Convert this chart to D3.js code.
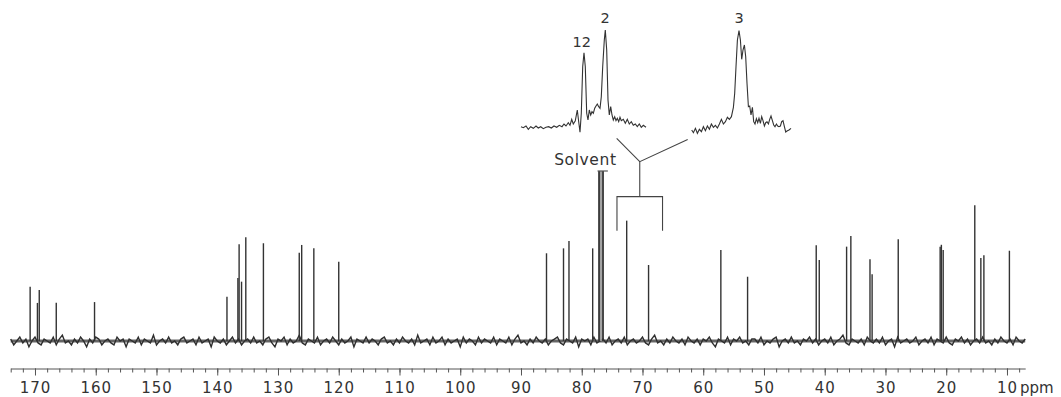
<!DOCTYPE html>
<html>
<head>
<meta charset="utf-8">
<script src="https://cdn.jsdelivr.net/npm/d3@7"></script>
<style>
  body { margin: 0; background: #fff; }
  svg { display: block; }
  text { font-family: "DejaVu Sans", sans-serif; fill: #333; }
</style>
</head>
<body>
<div id="chart"></div>
<script>
// 13C signals: shift in ppm and relative height (solvent top = 100)
const peakShifts = [170.8, 169.6, 169.3, 166.5, 160.2, 138.4, 136.6, 136.4, 136.0, 135.3,
  132.4, 126.5, 126.1, 124.1, 120.0, 85.8, 83.0, 82.1, 78.2, 72.6, 69.0, 57.1, 52.7,
  41.4, 40.9, 36.4, 35.7, 32.55, 32.2, 27.9, 21.0, 20.8, 20.5, 15.3, 14.3, 13.8, 9.6];
const peakHeights = [31.9, 22.4, 30.0, 22.5, 22.9, 26.1, 37.1, 56.9, 34.9, 61.0,
  57.5, 51.9, 56.5, 54.5, 46.6, 51.6, 54.5, 58.8, 54.5, 70.8, 44.7, 53.5, 37.8,
  56.3, 47.6, 55.5, 61.8, 48.1, 39.2, 59.8, 55.5, 56.6, 53.5, 79.8, 48.8, 50.4, 53.1];

// CDCl3 triplet, drawn clipped with a cap
const solventShifts = [77.15, 76.83, 76.5];
const solventHeight = 100;
const solventCap = [77.4, 75.7];

// baseline noise, one value every 0.5 ppm from 174 ppm down
const noiseStart = 174;
const noiseStep = 0.5;
const baselineNoise = [
  1,-2,0,2,-1,1,-3,0,2,-1,-2,1,0,-1,2,-2,1,3,-1,0,
  -2,1,-1,2,0,-3,1,-1,2,1,-2,0,1,-1,-2,2,0,1,-3,1,
  0,-1,2,-2,1,0,-1,3,-2,0,1,-1,2,-1,0,-2,1,2,-1,0,
  1,-2,2,-1,0,1,-3,2,0,-1,1,-2,0,2,-1,1,-2,0,1,-1,
  2,-1,0,-2,1,2,-1,-3,1,0,2,-2,1,-1,0,3,-1,-2,1,0,
  -1,2,-2,0,1,-1,2,0,-2,1,-1,0,2,-3,1,0,-1,2,-1,1,
  0,-2,1,2,-1,0,-2,1,-1,2,0,-1,1,-2,3,-1,0,1,-2,2,
  -1,0,2,-2,1,-1,0,1,-3,2,-1,1,0,-2,2,-1,1,0,-1,2,
  -2,1,0,-1,2,-2,1,3,-1,0,-2,1,-1,2,0,-1,1,-2,0,1,
  2,-1,-2,1,0,-1,2,-3,1,0,1,-2,2,-1,0,1,-1,2,-2,0,
  1,-1,2,-2,0,1,-1,0,2,-1,-2,1,3,-1,0,-2,1,-1,2,0,
  -1,1,-2,2,0,-1,1,-2,1,0,2,-1,-3,1,0,-1,2,-2,1,0,
  2,-1,0,-2,1,1,-1,2,-2,0,-1,1,2,-3,0,1,-1,2,-1,0,
  -2,1,0,2,-1,1,-2,0,1,-1,2,-2,0,1,3,-1,-2,1,0,-1,
  1,-2,2,0,-1,1,-1,2,-2,0,1,-3,2,-1,0,1,-1,0,2,-2,
  0,1,-1,2,-2,1,0,-1,2,-1,-2,1,0,2,-1,1,-2,0,1,-1,
  2,-1,0,-2,1,-1,2,0,-1,1,-2,2,0,-1,1];

// axis
const majorTicks = [170, 160, 150, 140, 130, 120, 110, 100, 90, 80, 70, 60, 50, 40, 30, 20, 10];
const minorTicks = d3.range(174, 7, -2);

// expansions (relative position, relative height)
const insetAPos = [0, 2.3, 5, 7.3, 9.7, 12.3, 15, 17.3, 19.7, 22.3, 25, 27.7, 30.3, 33, 35.7, 38.3, 41, 43, 45, 47.3,
  49, 50.7, 52.3, 54.3, 56.3, 57.7, 59, 60.3, 61.7, 63, 64.3, 65.7, 67, 68.3, 69.7, 71, 72.3, 73.7, 75, 76.3,
  77.7, 79, 80.3, 81.7, 83.3, 84.3, 85.7, 87, 88.3, 89.7, 91, 92.3, 93.7, 95, 96.3, 97.7, 99, 100.3, 102.3,
  104.3, 106.3, 108.3, 110.3, 112.3, 114.3, 116.3, 118.3, 120.3, 122.3, 125];
const insetAInt = [1.3, 0.3, 2, -1.3, 1.3, -0.3, 2, 0, 1.3, -0.7, 0.7, 1.3, 0, 2, 0.7, 2.7, 1.3, 4, 2, 5.3,
  2.7, 8.7, 4, 7.3, 18, 6.3, -4.3, 14.7, 61.3, 75.3, 61.3, 14.7, 8, 18, 13, 16.3, 14.7, 19.7, 22, 24,
  21.3, 19.7, 31.3, 61.3, 88, 98, 78, 28, 13, 21.3, 13, 8, 11.3, 7.3, 9.7, 6.3, 10.7, 7.3, 8.7,
  4.7, 8.7, 4, 6.3, 2.7, 4, 1.3, 4, 0.7, 2.7, 0.7];
const insetBPos = [0, 1.7, 3.7, 5.7, 7.7, 9.7, 11.7, 13.7, 15.7, 17.7, 19.7, 21.7, 23.7, 25.7, 27.7, 29.7, 31.7,
  33.7, 35.7, 37.7, 39.7, 41.7, 43, 44.3, 45.7, 47.3, 48.7, 50, 51.3, 52.7, 54, 55.3, 56.7, 58, 59.3, 60.7,
  62, 63.3, 64.7, 66, 67.3, 68.7, 70, 71.3, 72.7, 74, 75.3, 76.7, 78, 79.3, 80.7, 82, 83.3, 84.7, 86, 87.3,
  88.7, 90, 91.3, 92.7, 94, 95.3, 97.3, 99.3];
const insetBInt = [-2, -4.7, -0.3, -5.3, -1.3, -3.7, 1.3, -2.7, 2, -1.3, 4, 0.7, 2.7, 0, 4, 8.7, 4,
  6.3, 10.7, 8.7, 11.3, 20.7, 34.7, 61.3, 88, 97.3, 88, 68.7, 78, 83, 71.3, 44.7, 21.3, 22, 13, 20.7,
  6.3, 4, 9.3, 5.3, 9.7, 4.7, 11.3, 7.3, 2, 5.3, 6.3, 4, 8.7, 12, 7.3, 3, 1.3, 4, 2, 1.3,
  2, 6.3, 7.3, 1.3, -4, -3, -2, -0.3];

// carbon numbers above the expansions
const labelTexts = ["12", "2", "3"];
const labelInset = ["A", "A", "B"];
const labelPos = [60.7, 84, 47.3];
const labelInt = [81.3, 105.3, 105.3];

// bracket tying the expansions to the spectrum
const bracketSpan = [74.2, 66.7];
const bracketLegInt = 64.9;
const bracketBarInt = 84.9;
const bracketJoinInt = 105.5;
const armLeft = [74.25, 119.2];
const armRight = [62.56, 118.6];
const solventLabel = [79.4, 103.5];

const width = 1061;
const height = 397;
const axisY = 368.5;
const ink = '#333';

const svg = d3.select('#chart')
  .append('svg')
  .attr('width', width)
  .attr('height', height)
  .style('background', '#fff');

const x = d3.scaleLinear().domain([174, 7]).range([10.7, 1025.2]);
const y = d3.scaleLinear().domain([0, 100]).range([341, 171]);
const insetY = d3.scaleLinear().domain([0, 100]).range([128, 28]);
const insetX = {
  A: d3.scaleLinear().domain([0, 125]).range([521, 646]),
  B: d3.scaleLinear().domain([0, 100]).range([691.7, 791.7])
};

// noisy baseline: a dark band plus the noise trace
svg.append('line')
  .attr('x1', x(noiseStart))
  .attr('x2', x(noiseStart - (baselineNoise.length - 1) * noiseStep))
  .attr('y1', y(0))
  .attr('y2', y(0))
  .attr('stroke', '#666')
  .attr('stroke-width', 3);

const noisePts = baselineNoise.map((v, i) => [noiseStart - i * noiseStep, v]);
svg.append('path')
  .datum(noisePts)
  .attr('fill', 'none')
  .attr('stroke', '#2e2e2e')
  .attr('stroke-width', 1.4)
  .attr('d', d3.line().x(d => x(d[0])).y(d => y(d[1] * 1.15)));

// peaks
svg.selectAll('.peak')
  .data(peakShifts)
  .enter()
  .append('line')
  .attr('class', 'peak')
  .attr('x1', d => x(d))
  .attr('x2', d => x(d))
  .attr('y1', y(0))
  .attr('y2', (d, i) => y(peakHeights[i]))
  .attr('stroke', ink)
  .attr('stroke-width', 1.4);

// solvent
svg.selectAll('.solvent')
  .data(solventShifts)
  .enter()
  .append('line')
  .attr('class', 'solvent')
  .attr('x1', d => x(d))
  .attr('x2', d => x(d))
  .attr('y1', y(0))
  .attr('y2', y(solventHeight))
  .attr('stroke', (d, i) => i === 1 ? '#999' : '#333')
  .attr('stroke-width', 1.8);

svg.append('line')
  .attr('x1', x(solventCap[0]))
  .attr('x2', x(solventCap[1]))
  .attr('y1', y(solventHeight))
  .attr('y2', y(solventHeight))
  .attr('stroke', '#555')
  .attr('stroke-width', 1.2);

svg.append('text')
  .attr('x', x(solventLabel[0]))
  .attr('y', y(solventLabel[1]))
  .attr('text-anchor', 'middle')
  .style('font-size', '15.5px')
  .style('letter-spacing', '0.6px')
  .text('Solvent');

// bracket
const bx0 = x(bracketSpan[0]);
const bx1 = x(bracketSpan[1]);
const bxm = (bx0 + bx1) / 2;
svg.append('path')
  .attr('fill', 'none')
  .attr('stroke', '#444')
  .attr('stroke-width', 1.1)
  .attr('d', `M${bx0},${y(bracketLegInt)}V${y(bracketBarInt)}H${bx1}V${y(bracketLegInt)}`
    + `M${bxm},${y(bracketBarInt)}V${y(bracketJoinInt)}`
    + `M${x(armLeft[0])},${y(armLeft[1])}L${bxm},${y(bracketJoinInt)}L${x(armRight[0])},${y(armRight[1])}`);

// expansions
const insetData = { A: [insetAPos, insetAInt], B: [insetBPos, insetBInt] };
Object.keys(insetData).forEach(k => {
  const [pos, val] = insetData[k];
  svg.append('path')
    .datum(pos.map((p, i) => [p, val[i]]))
    .attr('fill', 'none')
    .attr('stroke', '#333')
    .attr('stroke-width', 1.1)
    .attr('d', d3.line().x(d => insetX[k](d[0])).y(d => insetY(d[1])));
});

svg.selectAll('.clabel')
  .data(labelTexts)
  .enter()
  .append('text')
  .attr('class', 'clabel')
  .attr('x', (d, i) => insetX[labelInset[i]](labelPos[i]))
  .attr('y', (d, i) => insetY(labelInt[i]))
  .attr('text-anchor', 'middle')
  .style('font-size', '14.5px')
  .text(d => d);

// axis
const minorAxis = svg.append('g')
  .attr('transform', `translate(0,${axisY})`)
  .call(d3.axisBottom(x).tickValues(minorTicks).tickSize(4).tickSizeOuter(0).tickFormat(''));
minorAxis.selectAll('path, line').attr('stroke', '#555');

const majorAxis = svg.append('g')
  .attr('transform', `translate(0,${axisY})`)
  .call(d3.axisBottom(x).tickValues(majorTicks).tickSize(7).tickPadding(7).tickSizeOuter(0).tickFormat(d3.format('d')));
majorAxis.select('.domain').remove();
majorAxis.selectAll('line').attr('stroke', '#555');
majorAxis.selectAll('text')
  .style('font-family', '"DejaVu Sans", sans-serif')
  .style('font-size', '15px')
  .style('letter-spacing', '1px')
  .attr('fill', '#444');

svg.append('text')
  .attr('x', x(10) + 13)
  .attr('y', axisY + 7 + 7)
  .attr('dy', '0.71em')
  .style('font-size', '15px')
  .attr('fill', '#444')
  .text('ppm');
</script>
</body>
</html>
